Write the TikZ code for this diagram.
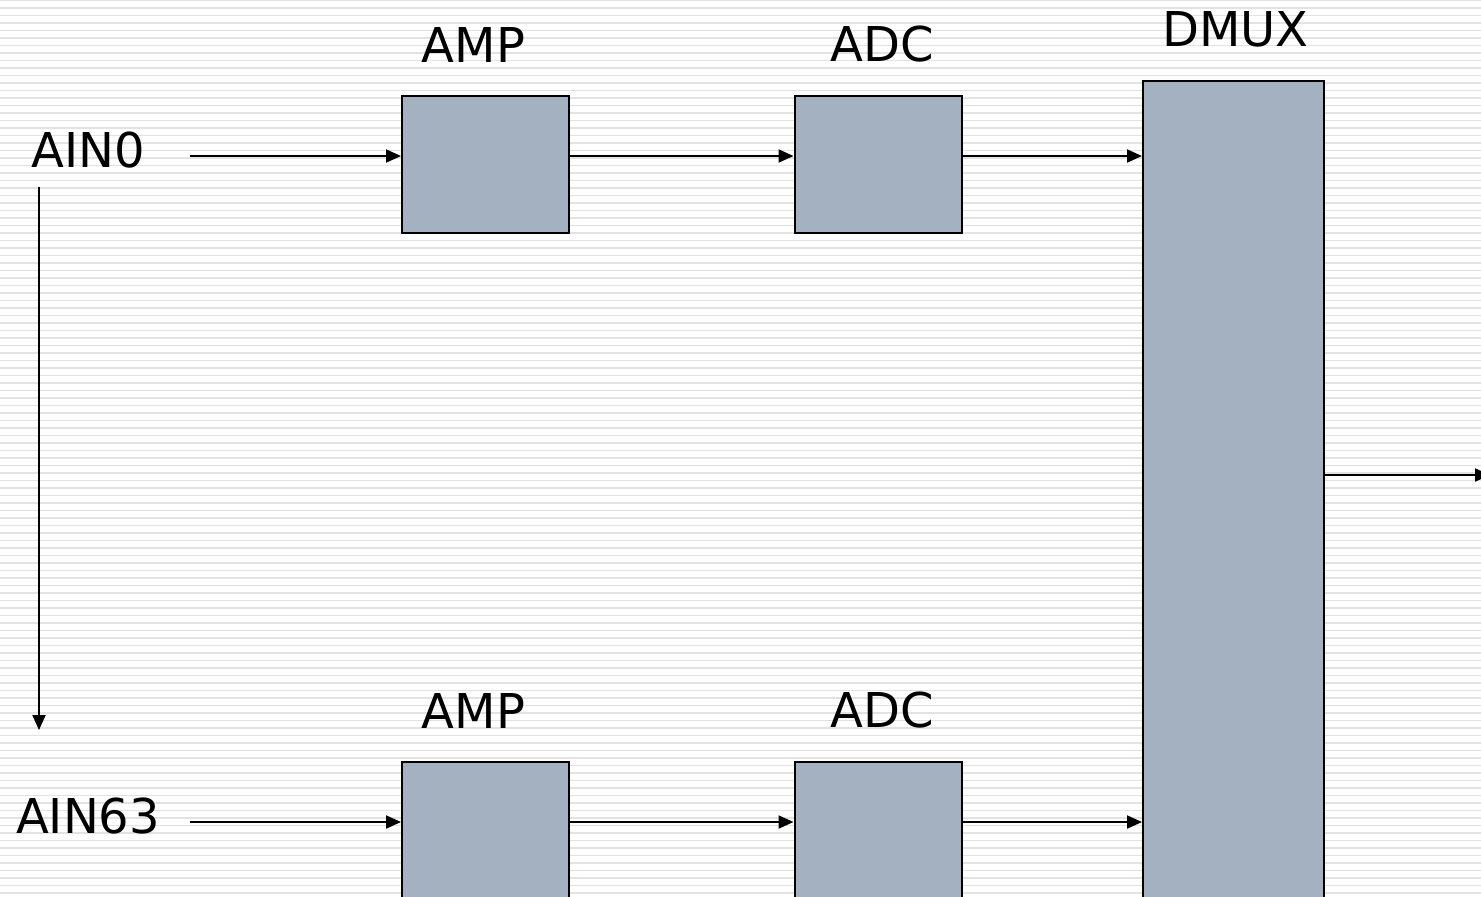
\documentclass[tikz,border=0pt]{standalone}
\usepackage{fontspec}
\setmainfont{DejaVu Sans}
\usetikzlibrary{arrows.meta,positioning}
\definecolor{blockfill}{RGB}{163,177,192}
\definecolor{stripegray}{RGB}{226,226,226}

\begin{document}
\begin{tikzpicture}[x=0.5pt, y=-0.5pt,
	every node/.style={font=\fontsize{24}{28}\selectfont},
	block/.style={draw=black, line width=1pt, fill=blockfill, minimum width=83.5pt, minimum height=68.5pt, inner sep=0pt},
	tag/.style={inner sep=0pt},
	chan/.style={inner sep=0pt, minimum width=102pt},
	flow/.style={line width=1pt, -{Triangle[length=7.5pt, width=6.5pt]}}]
	\useasboundingbox (0,0) rectangle (1481,896);
	\clip (0,0) rectangle (1481,896);
	% striped background
	\fill[white] (0,0) rectangle (1481,896);
	\foreach \k in {0,...,119}
		\draw[stripegray, line width=0.75pt] (0,0.7+7.5*\k) -- (1481,0.7+7.5*\k);
	% channel 0
	\node[chan] (ain0) at (88,150) {AIN0};
	\node[block] (amp0) at (485.5,164) {};
	\node[block] (adc0) at (878,164) {};
	\node[tag, above=16pt of amp0, xshift=-6pt] (tamp0) {AMP};
	\node[tag, above=16pt of adc0, xshift=2pt] (tadc0) {ADC};
	% channel 63
	\node[chan] (ain63) at (88,816) {AIN63};
	\node[block] (amp63) at (485.5,830.5) {};
	\node[block] (adc63) at (878,830.5) {};
	\node[tag, above=16pt of amp63, xshift=-6pt] (tamp63) {AMP};
	\node[tag, above=16pt of adc63, xshift=2pt] (tadc63) {ADC};
	% demultiplexer
	\node[block, minimum width=90.5pt, minimum height=439.5pt] (dmux) at (1233.5,520.5) {};
	\node[tag, above=16pt of dmux, xshift=1pt] (tdmux) {DMUX};
	% signal levels and free ends
	\coordinate (row0) at (0,156);
	\coordinate (row63) at (0,822);
	\coordinate (scantop) at (39,187);
	\coordinate (scanbot) at (39,730);
	\coordinate (out) at (1490,475);
	% connections
	\draw[flow] (ain0.east |- row0) -- (amp0.west |- row0);
	\draw[flow] (amp0.east |- row0) -- (adc0.west |- row0);
	\draw[flow] (adc0.east |- row0) -- (dmux.west |- row0);
	\draw[flow] (ain63.east |- row63) -- (amp63.west |- row63);
	\draw[flow] (amp63.east |- row63) -- (adc63.west |- row63);
	\draw[flow] (adc63.east |- row63) -- (dmux.west |- row63);
	\draw[flow] (scantop) -- (scanbot);
	\draw[flow] (dmux.east |- out) -- (out);
\end{tikzpicture}
\end{document}
